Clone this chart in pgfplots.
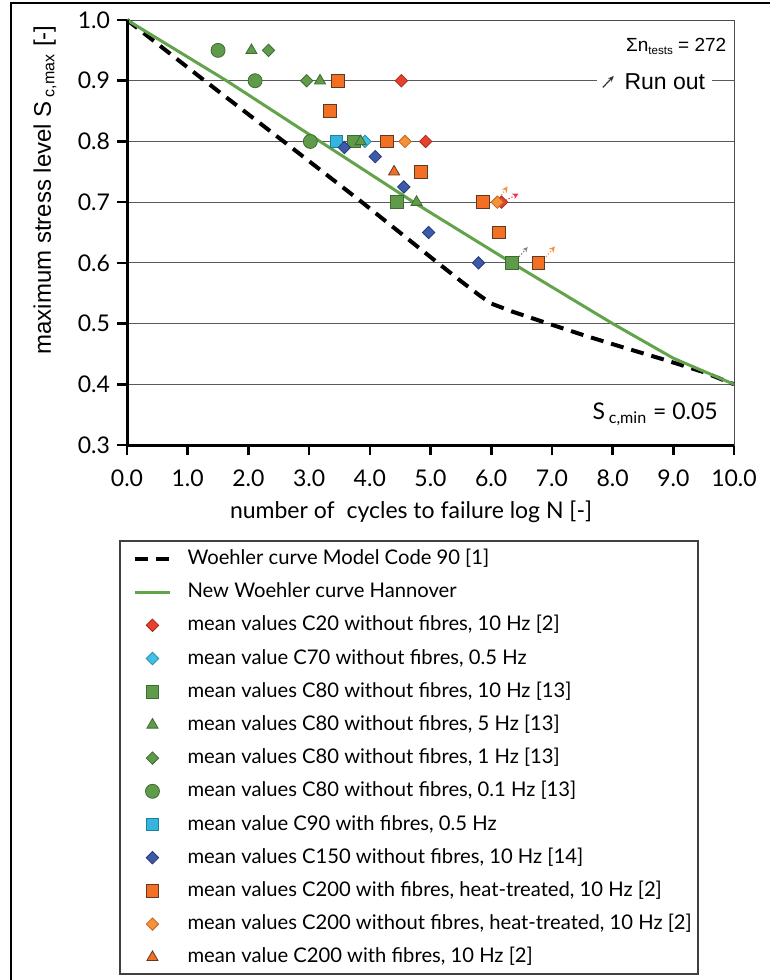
\documentclass[border=0pt]{standalone}
\usepackage{fontspec}
\setmainfont{Lato}
\newfontfamily\arialfont{Liberation Sans}
\usepackage{pgfplots}
\pgfplotsset{compat=1.18}
\usetikzlibrary{arrows.meta}

\definecolor{hgreen}{HTML}{62A34B}
\definecolor{mRed}{HTML}{E8402F}
\definecolor{mRedE}{HTML}{A52A1E}
\definecolor{mCyan}{HTML}{3FC1E8}
\definecolor{mCyanE}{HTML}{2A8FB0}
\definecolor{mGreen}{HTML}{5F9B4B}
\definecolor{mGreenE}{HTML}{3E6B30}
\definecolor{mCyanSq}{HTML}{35B5DE}
\definecolor{mCyanSqE}{HTML}{1E7FA0}
\definecolor{mBlue}{HTML}{3C5AA8}
\definecolor{mBlueE}{HTML}{26397A}
\definecolor{mOrange}{HTML}{F36F24}
\definecolor{mOrangeE}{HTML}{5E3A22}
\definecolor{mOrangeD}{HTML}{F6913A}
\definecolor{mOrangeDE}{HTML}{C0651C}

\pgfplotsset{
  dmd/.style 2 args={only marks, mark=square*, mark size=2.2pt,
    mark options={rotate=45, fill=#1, draw=#2, line width=0.4pt}},
  sqr/.style 2 args={only marks, mark=square*, mark size=3.2pt,
    mark options={fill=#1, draw=#2, line width=0.5pt}},
  tri/.style 2 args={only marks, mark=triangle*, mark size=3.2pt,
    mark options={fill=#1, draw=#2, line width=0.4pt}},
  circ/.style 2 args={only marks, mark=*, mark size=3.5pt,
    mark options={fill=#1, draw=#2, line width=0.4pt}},
}

\begin{document}
\begin{tikzpicture}
\path[use as bounding box] (0,0) rectangle (385pt,490pt);
\draw[line width=1.2pt] (5.5pt,0) -- (5.5pt,488.5pt) -- (385pt,488.5pt);

\begin{axis}[
  at={(63.5pt,267.5pt)}, anchor=south west,
  scale only axis, width=303.5pt, height=212.5pt,
  xmin=0, xmax=10, ymin=0.3, ymax=1.0,
  xtick={0,1,2,3,4,5,6,7,8,9,10},
  ytick={0.3,0.4,0.5,0.6,0.7,0.8,0.9,1.0},
  xtick pos=left, ytick pos=left,
  tick align=outside, major tick length=5pt,
  major tick style={line width=1.3pt, black},
  axis line style={line width=0.5pt, black!70},
  ymajorgrids, major grid style={line width=0.5pt, black!65},
  tick label style={font=\fontsize{11.5}{13}\selectfont},
  /pgf/number format/.cd, fixed, fixed zerofill, precision=1, assume math mode=true,
  /pgfplots/.cd,
  x tick label style={yshift=-4pt},
  clip=false,
  legend cell align=left,
  legend style={at={(axis description cs:0,0)}, anchor=north west,
    xshift=3pt, yshift=-51.5pt, draw=none, fill=none, inner sep=0pt,
    row sep=6.1pt, column sep=8pt,
    font=\fontsize{10.1}{12}\selectfont,
    nodes={inner sep=0pt, text height=8pt, text depth=2.5pt}},
]

\addplot[black, line width=2pt, dash pattern=on 6.5pt off 4pt] coordinates {
  (0,1.0) (1.28,0.9) (2.58,0.8) (3.87,0.7) (5.12,0.6) (5.5,0.57) (5.8,0.547)
  (6.0,0.533) (6.34,0.52) (6.94,0.50) (7.55,0.48) (8.2,0.46) (8.87,0.44)
  (9.5,0.42) (10,0.40)};
\addlegendentry{Woehler curve Model Code 90 [1]}

\addplot[hgreen, line width=1.5pt] coordinates {
  (0,1.0) (1.64,0.9) (3.18,0.8) (4.72,0.7) (6.34,0.6) (8.0,0.5) (9.0,0.443) (10,0.4)};
\addlegendentry{New Woehler curve Hannover}

% run-out arrows
\addplot[forget plot, mOrangeD, densely dotted, line width=0.6pt, -{Stealth[length=3pt,width=3pt]}]
  coordinates {(6.14,0.707) (6.27,0.726)};
\addplot[forget plot, mRed!80!magenta, densely dotted, line width=0.6pt, -{Stealth[length=3pt,width=3pt]}]
  coordinates {(6.24,0.703) (6.45,0.714)};
\addplot[forget plot, black!50, densely dotted, line width=0.6pt, -{Stealth[length=2.5pt,width=2.5pt]}]
  coordinates {(6.46,0.61) (6.6,0.626)};
\addplot[forget plot, mOrangeD, densely dotted, line width=0.6pt, -{Stealth[length=3pt,width=3pt]}]
  coordinates {(6.9,0.61) (7.05,0.627)};

\addplot[dmd={mRed}{mRedE}] coordinates {(4.52,0.90) (4.92,0.80) (6.17,0.70)};
\addlegendentry{mean values C20 without fibres, 10 Hz [2]}

\addplot[dmd={mCyan}{mCyanE}] coordinates {(3.92,0.80)};
\addlegendentry{mean value C70 without fibres, 0.5 Hz}

\addplot[sqr={mGreen}{mGreenE}] coordinates {(3.74,0.80) (4.45,0.70) (6.34,0.60)};
\addlegendentry{mean values C80 without fibres, 10 Hz [13]}

\addplot[tri={mGreen}{mGreenE}] coordinates {(2.05,0.95) (3.18,0.90) (3.85,0.80) (4.77,0.70)};
\addlegendentry{mean values C80 without fibres, 5 Hz [13]}

\addplot[dmd={mGreen}{mGreenE}] coordinates {(2.33,0.95) (2.96,0.90)};
\addlegendentry{mean values C80 without fibres, 1 Hz [13]}

\addplot[circ={mGreen}{mGreenE}] coordinates {(1.50,0.95) (2.11,0.90) (3.02,0.80)};
\addlegendentry{mean values C80 without fibres, 0.1 Hz [13]}

\addplot[sqr={mCyanSq}{mCyanSqE}] coordinates {(3.45,0.80)};
\addlegendentry{mean value C90 with fibres, 0.5 Hz}

\addplot[dmd={mBlue}{mBlueE}] coordinates {(3.58,0.79) (4.09,0.775) (4.56,0.725) (4.97,0.65) (5.79,0.60)};
\addlegendentry{mean values C150 without fibres, 10 Hz [14]}

\addplot[sqr={mOrange}{mOrangeE}] coordinates {(3.48,0.90) (3.34,0.85) (4.28,0.80) (4.84,0.75) (5.86,0.70) (6.13,0.65) (6.78,0.60)};
\addlegendentry{mean values C200 with fibres, heat-treated, 10 Hz [2]}

\addplot[dmd={mOrangeD}{mOrangeDE}] coordinates {(4.58,0.80) (6.10,0.70)};
\addlegendentry{mean values C200 without fibres, heat-treated, 10 Hz [2]}

\addplot[tri={mOrange}{mOrangeE}] coordinates {(4.40,0.75)};
\addlegendentry{mean value C200 with fibres, 10 Hz [2]}

% annotations
\fill[white] (axis cs:7.74,0.885) rectangle (axis cs:9.64,0.915);
\node[anchor=west, font=\arialfont\fontsize{11.5}{13}\selectfont, inner sep=0pt] at (axis cs:8.19,0.898) {Run out};
\draw[black!80, line width=0.6pt, -{Stealth[length=3pt,width=2.5pt]}] (axis cs:7.84,0.889) -- (axis cs:8.02,0.908);
\node[anchor=east, font=\arialfont\fontsize{9.5}{11}\selectfont, inner sep=0pt] at (axis cs:9.88,0.956)
  {Σn{\fontsize{5.8}{7}\selectfont\raisebox{-1.6pt}{tests}} = 272};
\node[anchor=east, font=\fontsize{11.5}{13}\selectfont, inner sep=0pt] at (axis cs:9.74,0.351) {S\,\textsubscript{c,min} = 0.05};

\draw[line width=1.5pt, black] (rel axis cs:0,1) -- (rel axis cs:0,0) -- (rel axis cs:1,0);
\end{axis}

\node[rotate=90, font=\arialfont\fontsize{12}{14}\selectfont] at (22.5pt,395pt) {maximum stress level S\,\textsubscript{c,max} [-]};
\node[font=\fontsize{11.5}{13}\selectfont] at (205.5pt,234pt) {number of\ \ cycles to failure log N [-]};
\draw[line width=0.6pt, black!75] (60pt,3pt) rectangle (349pt,219.5pt);
\end{tikzpicture}
\end{document}
